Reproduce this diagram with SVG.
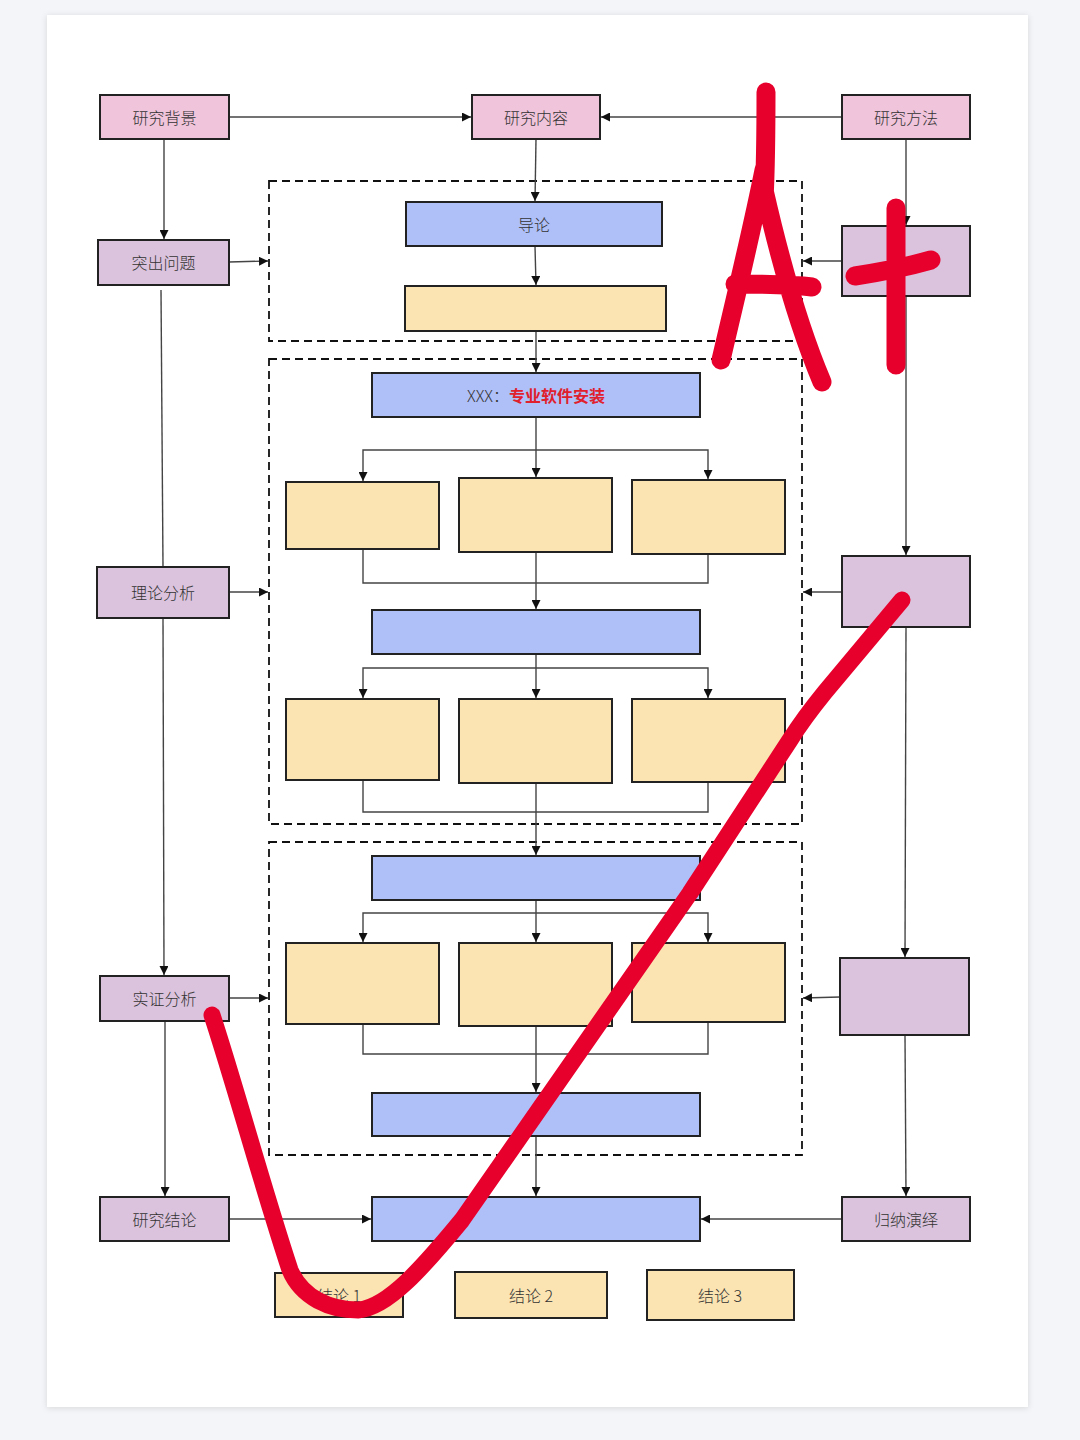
<svg xmlns="http://www.w3.org/2000/svg" width="1080" height="1440" viewBox="0 0 1080 1440">
<defs>
<filter id="shadow" x="-5%" y="-5%" width="110%" height="110%">
<feDropShadow dx="0" dy="1" stdDeviation="3" flood-color="#000" flood-opacity="0.12"/>
</filter>
<marker id="arr" viewBox="0 0 10 10" refX="10" refY="5" markerWidth="9" markerHeight="9" markerUnits="userSpaceOnUse" orient="auto">
<path d="M0,0 L10,5 L0,10 Z" fill="#111"/>
</marker>
</defs>
<style>
.pink{fill:#f0c4da;stroke:#222;stroke-width:2}
.lav{fill:#dbc3dd;stroke:#222;stroke-width:2}
.blue{fill:#afbff8;stroke:#222;stroke-width:2}
.yel{fill:#fbe3b2;stroke:#222;stroke-width:2}
.dash{fill:none;stroke:#111;stroke-width:1.8;stroke-dasharray:8 5}
.ln{fill:none;stroke:#444;stroke-width:1.4}
.ar{fill:none;stroke:#444;stroke-width:1.4;marker-end:url(#arr)}
.t{font-family:"Noto Sans CJK SC","Noto Sans",sans-serif;font-size:16px;font-weight:300;fill:#333;text-anchor:middle;dominant-baseline:central}
.red{fill:none;stroke:#e8002d;stroke-linecap:round;stroke-linejoin:round}
</style>
<rect x="0" y="0" width="1080" height="1440" fill="#f4f5f8"/>
<rect x="47" y="15" width="981" height="1392" fill="#fff" filter="url(#shadow)"/>

<g id="containers">
<rect id="dash1" class="dash" x="269" y="181" width="533" height="160"/>
<rect id="dash2" class="dash" x="269" y="359" width="533" height="465"/>
<rect id="dash3" class="dash" x="269" y="842" width="533" height="313"/>
</g>

<g id="connectors">
<path class="ar" d="M229,117 H471"/>
<path class="ar" d="M842,117 H601"/>
<path class="ar" d="M164,139 V239"/>
<path class="ar" d="M229,262 L268,261"/>
<path class="ln" d="M161,290 L163,567"/>
<path class="ar" d="M229,592 H268"/>
<path class="ar" d="M163,618 L164,975"/>
<path class="ar" d="M229,998 H268"/>
<path class="ar" d="M165,1021 V1196"/>
<path class="ar" d="M229,1219 H371"/>
<path class="ar" d="M906,139 V225"/>
<path class="ar" d="M842,261 H803"/>
<path class="ar" d="M906,296 V555"/>
<path class="ar" d="M842,592 H803"/>
<path class="ar" d="M906,627 L905,957"/>
<path class="ar" d="M840,997 L803,998"/>
<path class="ar" d="M905,1035 L906,1196"/>
<path class="ar" d="M842,1219 H701"/>
<path class="ar" d="M536,139 L535,201"/>
<path class="ar" d="M535,246 L536,285"/>
<path class="ar" d="M536,331 V372"/>
<path class="ar" d="M536,417 V477"/>
<path class="ar" d="M536,450 H363 V481"/>
<path class="ar" d="M536,450 H708 V479"/>
<path class="ln" d="M363,549 V583 H708 V554"/>
<path class="ar" d="M536,552 V609"/>
<path class="ar" d="M536,654 V698"/>
<path class="ar" d="M536,668 H363 V698"/>
<path class="ar" d="M536,668 H708 V698"/>
<path class="ln" d="M363,780 V812 H708 V782"/>
<path class="ar" d="M536,783 V855"/>
<path class="ar" d="M536,900 V942"/>
<path class="ar" d="M536,913 H363 V942"/>
<path class="ar" d="M536,913 H708 V942"/>
<path class="ln" d="M363,1024 V1054 H708 V1022"/>
<path class="ar" d="M536,1026 V1092"/>
<path class="ar" d="M536,1136 V1196"/>
</g>

<g id="n-bg"><rect class="pink" x="100" y="95" width="129" height="44"/><text class="t" x="164.5" y="117">研究背景</text></g>
<g id="n-content"><rect class="pink" x="472" y="95" width="128" height="44"/><text class="t" x="536" y="117">研究内容</text></g>
<g id="n-method"><rect class="pink" x="842" y="95" width="128" height="44"/><text class="t" x="906" y="117">研究方法</text></g>
<g id="n-problem"><rect class="lav" x="98" y="240" width="131" height="45"/><text class="t" x="163.5" y="262">突出问题</text></g>
<g id="n-theory"><rect class="lav" x="97" y="567" width="132" height="51"/><text class="t" x="163" y="592">理论分析</text></g>
<g id="n-empirical"><rect class="lav" x="100" y="976" width="129" height="45"/><text class="t" x="164.5" y="998">实证分析</text></g>
<g id="n-conclusion"><rect class="lav" x="100" y="1197" width="129" height="44"/><text class="t" x="164.5" y="1219">研究结论</text></g>
<g id="n-r1"><rect class="lav" x="842" y="226" width="128" height="70"/></g>
<g id="n-r2"><rect class="lav" x="842" y="556" width="128" height="71"/></g>
<g id="n-r3"><rect class="lav" x="840" y="958" width="129" height="77"/></g>
<g id="n-induct"><rect class="lav" x="842" y="1197" width="128" height="44"/><text class="t" x="906" y="1219">归纳演绎</text></g>

<g id="n-intro"><rect class="blue" x="406" y="202" width="256" height="44"/><text class="t" x="534" y="224">导论</text></g>
<g id="n-y0"><rect class="yel" x="405" y="286" width="261" height="45"/></g>
<g id="n-xxx"><rect class="blue" x="372" y="373" width="328" height="44"/><text class="t" x="536" y="395"><tspan fill="#333">XXX：</tspan><tspan fill="#e0202c" font-weight="bold">专业软件安装</tspan></text></g>
<g id="n-y11"><rect class="yel" x="286" y="482" width="153" height="67"/></g>
<g id="n-y12"><rect class="yel" x="459" y="478" width="153" height="74"/></g>
<g id="n-y13"><rect class="yel" x="632" y="480" width="153" height="74"/></g>
<g id="n-b2"><rect class="blue" x="372" y="610" width="328" height="44"/></g>
<g id="n-y21"><rect class="yel" x="286" y="699" width="153" height="81"/></g>
<g id="n-y22"><rect class="yel" x="459" y="699" width="153" height="84"/></g>
<g id="n-y23"><rect class="yel" x="632" y="699" width="153" height="83"/></g>
<g id="n-b3"><rect class="blue" x="372" y="856" width="328" height="44"/></g>
<g id="n-y31"><rect class="yel" x="286" y="943" width="153" height="81"/></g>
<g id="n-y32"><rect class="yel" x="459" y="943" width="153" height="83"/></g>
<g id="n-y33"><rect class="yel" x="632" y="943" width="153" height="79"/></g>
<g id="n-b4"><rect class="blue" x="372" y="1093" width="328" height="43"/></g>
<g id="n-final"><rect class="blue" x="372" y="1197" width="328" height="44"/></g>
<g id="n-c1"><rect class="yel" x="275" y="1273" width="128" height="44"/><text class="t" x="339" y="1295">结论 1</text></g>
<g id="n-c2"><rect class="yel" x="455" y="1272" width="152" height="46"/><text class="t" x="531" y="1295">结论 2</text></g>
<g id="n-c3"><rect class="yel" x="647" y="1270" width="147" height="50"/><text class="t" x="720" y="1295">结论 3</text></g>

<g id="annotation">
<path class="red" stroke-width="19" d="M766,92 C766,140 765,180 764,200 M764,170 C752,230 735,300 721,360 M764,190 C780,260 800,330 822,382 M735,284 C760,284 790,284 812,287"/>
<path class="red" stroke-width="19" d="M896,208 C896,260 896,320 896,365 M855,276 C880,272 910,266 931,260"/>
<path class="red" stroke-width="17" d="M212,1015 C235,1085 262,1185 290,1270 C302,1298 330,1310 358,1310 C388,1308 425,1265 462,1220 L690,893 L790,740 C800,724 812,708 825,692 L902,600"/>
</g>
</svg>
